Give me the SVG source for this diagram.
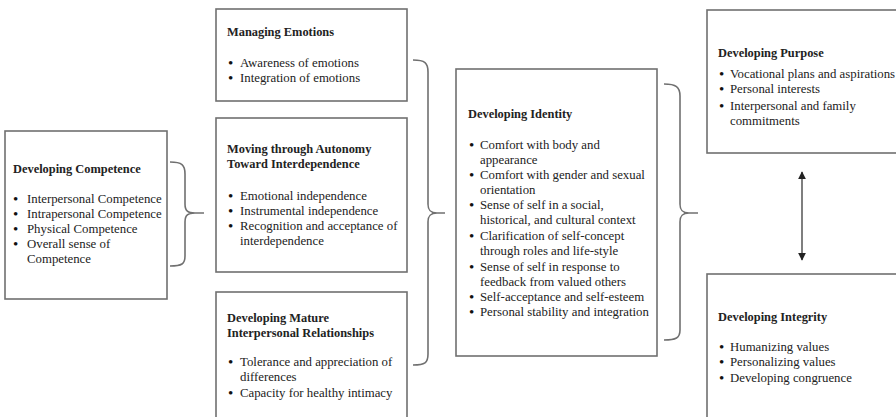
<svg xmlns="http://www.w3.org/2000/svg" width="896" height="417" viewBox="0 0 896 417">
<style>
.box{fill:#fff;stroke:#707070;stroke-width:1.6}
.t{font-family:"Liberation Serif","Times New Roman",serif;font-size:12.8px;fill:#222}
.h{font-weight:bold;font-size:12.4px}
.b{font-size:15px;fill:#111}
.br{fill:none;stroke:#707070;stroke-width:1.6}
</style>
<defs>
<marker id="ah" viewBox="0 0 10 10" refX="9" refY="5" markerWidth="8" markerHeight="8" orient="auto-start-reverse" markerUnits="userSpaceOnUse">
<path d="M0,0 L10,5 L0,10 z" fill="#222"/>
</marker>
</defs>
<rect width="896" height="417" fill="#fff"/>
<g id="competence">
<rect class="box" x="5" y="131" width="162" height="168"/>
<text class="t h" x="13" y="173">Developing Competence</text>
<g class="t"><text class="b" x="13" y="204">•</text><text x="27" y="203">Interpersonal Competence</text>
<text class="b" x="13" y="219">•</text><text x="27" y="218">Intrapersonal Competence</text>
<text class="b" x="13" y="234">•</text><text x="27" y="233">Physical Competence</text>
<text class="b" x="13" y="249">•</text><text x="27" y="248">Overall sense of</text>
<text x="27" y="263">Competence</text></g>
</g>
<g id="emotions">
<rect class="box" x="216" y="9" width="191" height="92"/>
<text class="t h" x="227" y="36">Managing Emotions</text>
<g class="t"><text class="b" x="228" y="68">•</text><text x="240" y="67">Awareness of emotions</text>
<text class="b" x="228" y="83">•</text><text x="240" y="82">Integration of emotions</text></g>
</g>
<g id="autonomy">
<rect class="box" x="216" y="118" width="191" height="154"/>
<text class="t h" x="227" y="153">Moving through Autonomy</text>
<text class="t h" x="227" y="168">Toward Interdependence</text>
<g class="t"><text class="b" x="228" y="201">•</text><text x="240" y="200">Emotional independence</text>
<text class="b" x="228" y="216">•</text><text x="240" y="215">Instrumental independence</text>
<text class="b" x="228" y="231">•</text><text x="240" y="230">Recognition and acceptance of</text>
<text x="240" y="245">interdependence</text></g>
</g>
<g id="relationships">
<rect class="box" x="216" y="292" width="191" height="140"/>
<text class="t h" x="227" y="322">Developing Mature</text>
<text class="t h" x="227" y="337">Interpersonal Relationships</text>
<g class="t"><text class="b" x="228" y="367">•</text><text x="240" y="366">Tolerance and appreciation of</text>
<text x="240" y="381">differences</text>
<text class="b" x="228" y="398">•</text><text x="240" y="397">Capacity for healthy intimacy</text></g>
</g>
<g id="identity">
<rect class="box" x="456" y="69" width="201" height="287"/>
<text class="t h" x="468" y="118">Developing Identity</text>
<g class="t">
<text class="b" x="469" y="150">•</text><text x="480" y="149">Comfort with body and</text>
<text x="480" y="164">appearance</text>
<text class="b" x="469" y="180">•</text><text x="480" y="179">Comfort with gender and sexual</text>
<text x="480" y="194">orientation</text>
<text class="b" x="469" y="210">•</text><text x="480" y="209">Sense of self in a social,</text>
<text x="480" y="224">historical, and cultural context</text>
<text class="b" x="469" y="241">•</text><text x="480" y="240">Clarification  of self-concept</text>
<text x="480" y="255">through roles and life-style</text>
<text class="b" x="469" y="272">•</text><text x="480" y="271">Sense of self in response to</text>
<text x="480" y="286">feedback from valued others</text>
<text class="b" x="469" y="302">•</text><text x="480" y="301">Self-acceptance and self-esteem</text>
<text class="b" x="469" y="317">•</text><text x="480" y="316">Personal stability and integration</text>
</g>
</g>
<g id="purpose">
<rect class="box" x="707" y="10" width="200" height="143"/>
<text class="t h" x="718" y="57">Developing Purpose</text>
<g class="t"><text class="b" x="719" y="79">•</text><text x="730" y="78">Vocational plans and aspirations</text>
<text class="b" x="719" y="94">•</text><text x="730" y="93">Personal interests</text>
<text class="b" x="719" y="111">•</text><text x="730" y="110">Interpersonal and family</text>
<text x="730" y="125">commitments</text></g>
</g>
<g id="integrity">
<rect class="box" x="707" y="274" width="200" height="160"/>
<text class="t h" x="718" y="321">Developing Integrity</text>
<g class="t"><text class="b" x="719" y="352">•</text><text x="730" y="351">Humanizing values</text>
<text class="b" x="719" y="367">•</text><text x="730" y="366">Personalizing values</text>
<text class="b" x="719" y="383">•</text><text x="730" y="382">Developing congruence</text></g>
</g>
<g id="connectors">
<path class="br" d="M170,162 C182,162 185,165 185,174 L185,204 C185,211 188,213 195,213 L204,213 M195,213 C188,213 185,215 185,222 L185,256 C185,264 182,266 170,266"/>
<path class="br" d="M413,60 C425,60 428,63 428,72 L428,204 C428,211 431,213 437,213 L445,213 M437,213 C431,213 428,215 428,222 L428,354 C428,363 425,365 413,365"/>
<path class="br" d="M664,84 C676,84 680,87 680,96 L680,204 C680,211 683,213 689,213 L698,213 M689,213 C683,213 680,215 680,222 L680,330 C680,338 676,340 664,340"/>
<line x1="802" y1="172" x2="802" y2="260" stroke="#555" stroke-width="1.5" marker-start="url(#ah)" marker-end="url(#ah)"/>
</g>
</svg>
